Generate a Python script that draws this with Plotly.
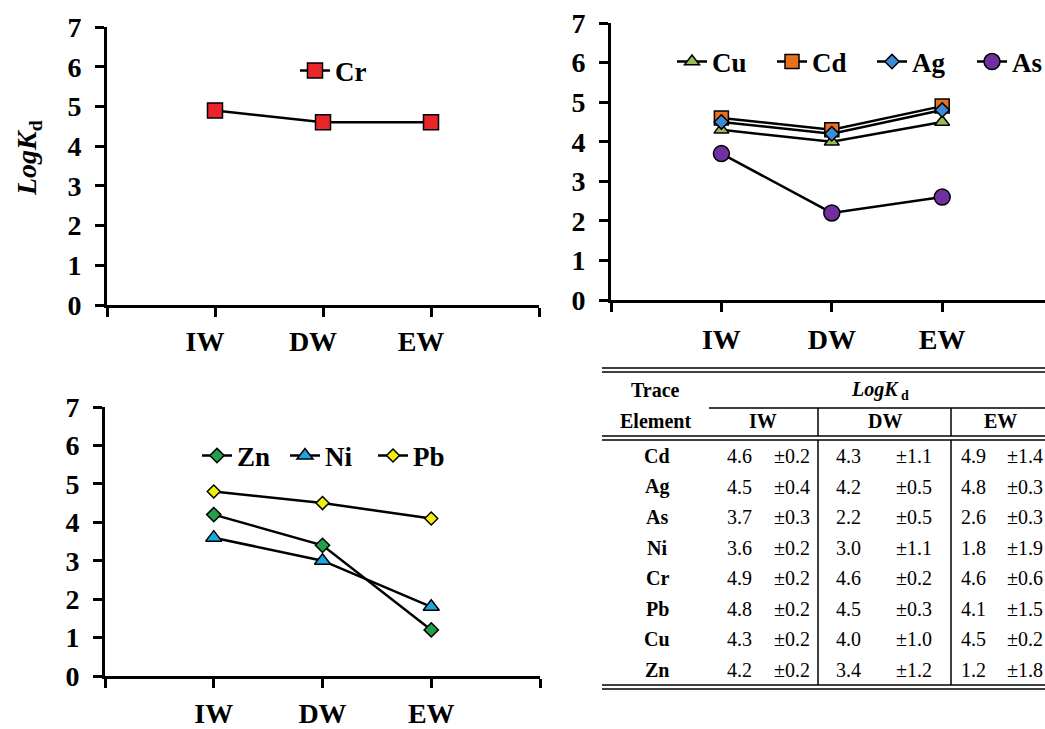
import plotly.graph_objects as go

# ---------------- data ----------------
sites = ["IW", "DW", "EW"]
elements = ["Cd", "Ag", "As", "Ni", "Cr", "Pb", "Cu", "Zn"]
iw_mean = [4.6, 4.5, 3.7, 3.6, 4.9, 4.8, 4.3, 4.2]
iw_sd = [0.2, 0.4, 0.3, 0.2, 0.2, 0.2, 0.2, 0.2]
dw_mean = [4.3, 4.2, 2.2, 3.0, 4.6, 4.5, 4.0, 3.4]
dw_sd = [1.1, 0.5, 0.5, 1.1, 0.2, 0.3, 1.0, 1.2]
ew_mean = [4.9, 4.8, 2.6, 1.8, 4.6, 4.1, 4.5, 1.2]
ew_sd = [1.4, 0.3, 0.3, 1.9, 0.6, 1.5, 0.2, 1.8]

panel1 = ["Cr"]
panel2 = ["Cu", "Cd", "Ag", "As"]
panel3 = ["Zn", "Ni", "Pb"]

styles = {
    "Cr": dict(symbol="square", color="#E8262B", size=15),
    "Cu": dict(symbol="triangle-up", color="#9BBB59", size=13),
    "Cd": dict(symbol="square", color="#E8701F", size=14),
    "Ag": dict(symbol="diamond", color="#3C8BD6", size=11),
    "As": dict(symbol="circle", color="#7030A0", size=16),
    "Zn": dict(symbol="diamond", color="#22A04B", size=11),
    "Ni": dict(symbol="triangle-up", color="#1EA6E0", size=14),
    "Pb": dict(symbol="diamond", color="#F2F00A", size=10),
}

W, H = 1045, 729
SERIF = "Liberation Serif"


def px(x):
    return x / W


def py(y):
    return 1 - y / H


def series(el):
    i = elements.index(el)
    return [iw_mean[i], dw_mean[i], ew_mean[i]]


xpos = [1, 2, 3]

fig = go.Figure()

for panel, ax, leg in [(panel1, "", "legend"), (panel2, "2", "legend2"), (panel3, "3", "legend3")]:
    for el in panel:
        st = styles[el]
        fig.add_trace(go.Scatter(
            x=xpos, y=series(el), name=el, mode="lines+markers",
            xaxis="x" + ax, yaxis="y" + ax, legend=leg,
            line=dict(color="black", width=2.5),
            marker=dict(symbol=st["symbol"], color=st["color"], size=st["size"],
                        line=dict(color="black", width=1.5)),
        ))

tickfont = dict(family=SERIF, size=28, color="black", weight="bold")


def xaxis(domain, rng, anchor, shift=0, standoff=0):
    return dict(domain=domain, range=rng, anchor=anchor, tickmode="array", tickvals=xpos,
                ticktext=sites,
                showline=True, linecolor="black", linewidth=3, ticks="outside",
                ticklen=9, tickwidth=2.5, tickcolor="black", showgrid=False,
                minor=dict(tick0=0, dtick=1, ticks="outside", ticklen=9, tickwidth=2.5,
                           tickcolor="black", showgrid=False),
                zeroline=False, tickfont=tickfont, ticklabelstandoff=standoff,
                ticklabelshift=shift, ticklabeloverflow="allow", fixedrange=True)


def yaxis(domain, anchor):
    return dict(domain=domain, range=[0, 7], tickmode="array", tickvals=list(range(8)),
                showline=True, linecolor="black", linewidth=3, ticks="outside",
                ticklen=9, tickwidth=2.5, tickcolor="black", showgrid=False,
                zeroline=False, tickfont=tickfont, anchor=anchor,
                ticklabelstandoff=8, ticklabeloverflow="allow", fixedrange=True)


legfont = dict(family=SERIF, size=27, color="black", weight="bold")

fig.update_layout(
    width=W, height=H,
    margin=dict(l=0, r=0, t=0, b=0, autoexpand=False),
    paper_bgcolor="white", plot_bgcolor="white",
    xaxis=xaxis([px(107), px(539)], [0, 4], "y", shift=-10, standoff=0),
    yaxis=yaxis([py(305), py(27)], "x"),
    xaxis2=xaxis([px(611), 1.0], [0, (W - 611) / 110.4], "y2", standoff=3),
    yaxis2=yaxis([py(300), py(23)], "x2"),
    xaxis3=xaxis([px(105), px(540)], [0, 4], "y3", standoff=1),
    yaxis3=yaxis([py(676), py(407)], "x3"),
    legend=dict(x=px(295), y=py(71), xanchor="left", yanchor="middle",
                orientation="h", font=legfont, bgcolor="rgba(0,0,0,0)"),
    legend2=dict(x=px(672), y=py(62), xanchor="left", yanchor="middle",
                 orientation="h", font=legfont, bgcolor="rgba(0,0,0,0)",
                 entrywidth=55, entrywidthmode="pixels"),
    legend3=dict(x=px(197), y=py(456), xanchor="left", yanchor="middle",
                 orientation="h", font=legfont, bgcolor="rgba(0,0,0,0)",
                 entrywidth=43, entrywidthmode="pixels"),
    showlegend=True,
)

annotations = []
shapes = []

# y-axis title
annotations.append(dict(
    x=px(28), y=py(158), xref="paper", yref="paper", text="<i>LogK</i><sub>d</sub>",
    showarrow=False, textangle=-90, xanchor="center", yanchor="middle",
    font=dict(family=SERIF, size=28, color="black", weight="bold")))

# ---------------- table ----------------
tfont_b = dict(family=SERIF, size=20, color="black", weight="bold")
tfont = dict(family=SERIF, size=20, color="black")


def label(x, y, text, font):
    annotations.append(dict(x=px(x), y=py(y), xref="paper", yref="paper", text=text,
                            showarrow=False, xanchor="center", yanchor="middle", font=font))


def hline(x0, x1, y, w=1.5):
    shapes.append(dict(type="line", xref="paper", yref="paper", x0=px(x0), x1=px(x1),
                       y0=py(y), y1=py(y), line=dict(color="black", width=w)))


def vline(x, y0, y1, w=1.5):
    shapes.append(dict(type="line", xref="paper", yref="paper", x0=px(x), x1=px(x),
                       y0=py(y0), y1=py(y1), line=dict(color="black", width=w)))


TL, TR = 602, W
hline(TL, TR, 368)
hline(TL, TR, 372)
hline(709, TR, 408)
hline(TL, TR, 436)
hline(TL, TR, 440)
hline(TL, TR, 685)
hline(TL, TR, 689)
for vx in (818, 951):
    vline(vx, 408, 436)
    vline(vx, 440, 685)

label(655, 390, "Trace", tfont_b)
label(655, 421, "Element", tfont_b)
label(880, 390, "<i>LogK</i><sub> d</sub>", tfont_b)
for cx, s in zip([763, 885, 1000], sites):
    label(cx, 421, s, tfont_b)

cols = [(739, 792, iw_mean, iw_sd), (848, 914, dw_mean, dw_sd), (973, 1025, ew_mean, ew_sd)]
for i, el in enumerate(elements):
    ry = 456 + 30.5 * i
    label(657, ry, el, tfont_b)
    for mx, sx, m, s in cols:
        label(mx, ry, f"{m[i]:.1f}", tfont)
        label(sx, ry, f"\u00b1{s[i]:.1f}", tfont)

fig.update_layout(annotations=annotations, shapes=shapes)

# remove the browser's default page margin so the 1045x729 figure fills the window
fig.write_html("out.html", config={"displayModeBar": False},
               post_script="document.body.style.margin='0';document.body.style.overflow='hidden';")
